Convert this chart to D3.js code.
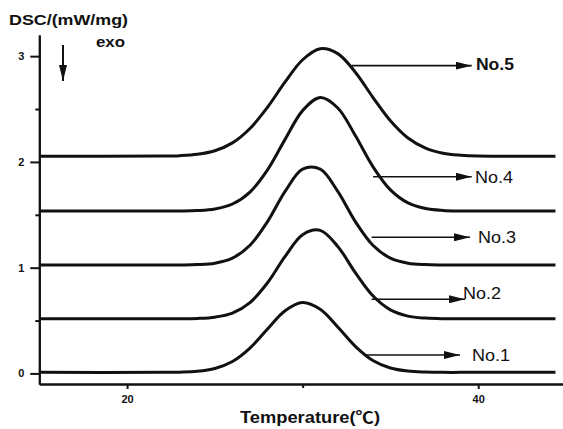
<!DOCTYPE html>
<html lang="en">
<head>
  <meta charset="UTF-8">
  <title>DSC curves</title>
  <style>
    body { margin: 0; background: #fff; }
    svg text { font-family: "Liberation Sans", Arial, "Noto Sans CJK SC", sans-serif; fill: #111; }
  </style>
</head>
<body>
  <svg id="svg" width="563" height="429"></svg>
  <script src="https://d3js.org/d3.v7.min.js"></script>
  <script>
    // temperature grid (°C) shared by the five samples
    const temps = [15, 22, 23, 24, 25, 26, 27, 28, 29, 30, 31, 32, 33, 34, 35, 36, 37, 38, 39, 40, 44.4]

    // DSC values (mW/mg)
    const no1 = [0.010, 0.010, 0.012, 0.020, 0.047, 0.113, 0.240, 0.420, 0.592, 0.670, 0.606, 0.439, 0.256, 0.122, 0.051, 0.022, 0.013, 0.010, 0.010, 0.010, 0.010]
    const no2 = [0.517, 0.517, 0.517, 0.520, 0.532, 0.570, 0.670, 0.857, 1.106, 1.312, 1.353, 1.201, 0.953, 0.734, 0.601, 0.542, 0.523, 0.517, 0.517, 0.517, 0.517]
    const no3 = [1.025, 1.025, 1.026, 1.029, 1.042, 1.090, 1.212, 1.436, 1.721, 1.931, 1.931, 1.721, 1.436, 1.212, 1.090, 1.042, 1.029, 1.026, 1.025, 1.025, 1.025]
    const no4 = [1.535, 1.535, 1.536, 1.540, 1.555, 1.602, 1.715, 1.925, 2.213, 2.485, 2.608, 2.510, 2.249, 1.956, 1.735, 1.612, 1.559, 1.541, 1.536, 1.535, 1.535]
    const no5 = [2.053, 2.055, 2.059, 2.072, 2.106, 2.180, 2.316, 2.517, 2.756, 2.966, 3.070, 3.024, 2.848, 2.611, 2.389, 2.226, 2.130, 2.082, 2.063, 2.055, 2.053]

    const seriesNames = ['No.1', 'No.2', 'No.3', 'No.4', 'No.5']
    const seriesValues = [no1, no2, no3, no4, no5]

    // annotation arrows: start on curve, tip, level
    const arrowFrom = [33.55, 33.93, 33.93, 34.01, 32.79]
    const arrowTo = [38.96, 39.25, 39.53, 39.63, 39.63]
    const arrowLevel = [0.174, 0.701, 1.287, 1.860, 2.910]
    const labelT = [39.65, 39.13, 39.99, 39.82, 39.87]
    const labelLevel = [0.174, 0.760, 1.285, 1.853, 2.924]

    const yMajor = [0, 1, 2, 3]
    const yMinor = [0.5, 1.5, 2.5]
    const xMajor = [20, 40]
    const xMinor = [30]

    const svg = d3.select('#svg')

    const x = d3.scaleLinear().domain([15, 45]).range([39.3, 566])
    const y = d3.scaleLinear().domain([-0.1, 3.2]).range([384, 35])

    // arrowhead
    svg.append('defs').append('marker')
      .attr('id', 'head')
      .attr('markerUnits', 'userSpaceOnUse')
      .attr('viewBox', '0 0 16 8')
      .attr('refX', 16).attr('refY', 4)
      .attr('markerWidth', 16).attr('markerHeight', 8)
      .attr('orient', 'auto')
      .append('path')
      .attr('d', 'M0,0 L16,4 L0,8 Z')
      .attr('fill', '#111')

    // axes
    const styleAxis = g => {
      g.select('.domain').attr('stroke', '#111').attr('stroke-width', 2)
      g.selectAll('.tick line').attr('stroke', '#111').attr('stroke-width', 2)
      g.selectAll('.tick text')
        .attr('font-size', 11).attr('font-weight', 'bold')
        .attr('font-family', '"Liberation Sans", Arial, sans-serif').attr('fill', '#111')
    }

    svg.append('g')
      .attr('transform', 'translate(39.3,0)')
      .call(d3.axisLeft(y).tickValues(yMajor).tickFormat(d3.format('d')).tickSize(9).tickSizeOuter(0).tickPadding(6))
      .call(styleAxis)
    svg.append('g')
      .attr('transform', 'translate(39.3,0)')
      .call(d3.axisLeft(y).tickValues(yMinor).tickFormat('').tickSize(4).tickSizeOuter(0))
      .call(styleAxis)

    svg.append('g')
      .attr('transform', 'translate(0,384)')
      .call(d3.axisBottom(x).tickValues(xMajor).tickFormat(d3.format('d')).tickSize(5).tickSizeOuter(0).tickPadding(6))
      .call(styleAxis)
    svg.append('g')
      .attr('transform', 'translate(0,384)')
      .call(d3.axisBottom(x).tickValues(xMinor).tickFormat('').tickSize(4).tickSizeOuter(0))
      .call(styleAxis)

    // curves
    const line = d3.line()
      .x((d, i) => x(temps[i]))
      .y(d => y(d))
      .curve(d3.curveCatmullRom.alpha(0.5))

    svg.append('g')
      .selectAll('path')
      .data(seriesValues)
      .enter()
      .append('path')
      .attr('d', line)
      .attr('fill', 'none')
      .attr('stroke', '#111')
      .attr('stroke-width', 3)

    // arrows and labels
    svg.append('g')
      .selectAll('line')
      .data(seriesNames)
      .enter()
      .append('line')
      .attr('x1', (d, i) => x(arrowFrom[i]))
      .attr('x2', (d, i) => x(arrowTo[i]))
      .attr('y1', (d, i) => y(arrowLevel[i]))
      .attr('y2', (d, i) => y(arrowLevel[i]))
      .attr('stroke', '#111')
      .attr('stroke-width', 1.6)
      .attr('marker-end', 'url(#head)')

    svg.append('g')
      .selectAll('text')
      .data(seriesNames)
      .enter()
      .append('text')
      .attr('x', (d, i) => x(labelT[i]))
      .attr('y', (d, i) => y(labelLevel[i]))
      .attr('dy', '0.36em')
      .attr('font-size', 16)
      .attr('font-weight', d => d === 'No.5' ? 'bold' : 'normal')
      .attr('textLength', 38)
      .attr('lengthAdjust', 'spacingAndGlyphs')
      .text(d => d)

    // titles
    svg.append('text')
      .attr('x', 9).attr('y', 25)
      .attr('font-size', 15).attr('font-weight', 'bold')
      .attr('textLength', 119).attr('lengthAdjust', 'spacingAndGlyphs')
      .text('DSC/(mW/mg)')

    svg.append('text')
      .attr('x', 96).attr('y', 47)
      .attr('font-size', 14).attr('font-weight', 'bold')
      .attr('textLength', 29).attr('lengthAdjust', 'spacingAndGlyphs')
      .text('exo')

    svg.append('line')
      .attr('x1', 63).attr('x2', 63).attr('y1', 45).attr('y2', 81)
      .attr('stroke', '#111').attr('stroke-width', 2)
      .attr('marker-end', 'url(#head)')

    svg.append('text')
      .attr('x', 240).attr('y', 423)
      .attr('font-size', 16).attr('font-weight', 'bold')
      .attr('textLength', 140).attr('lengthAdjust', 'spacingAndGlyphs')
      .text('Temperature(℃)')
  </script>
</body>
</html>
